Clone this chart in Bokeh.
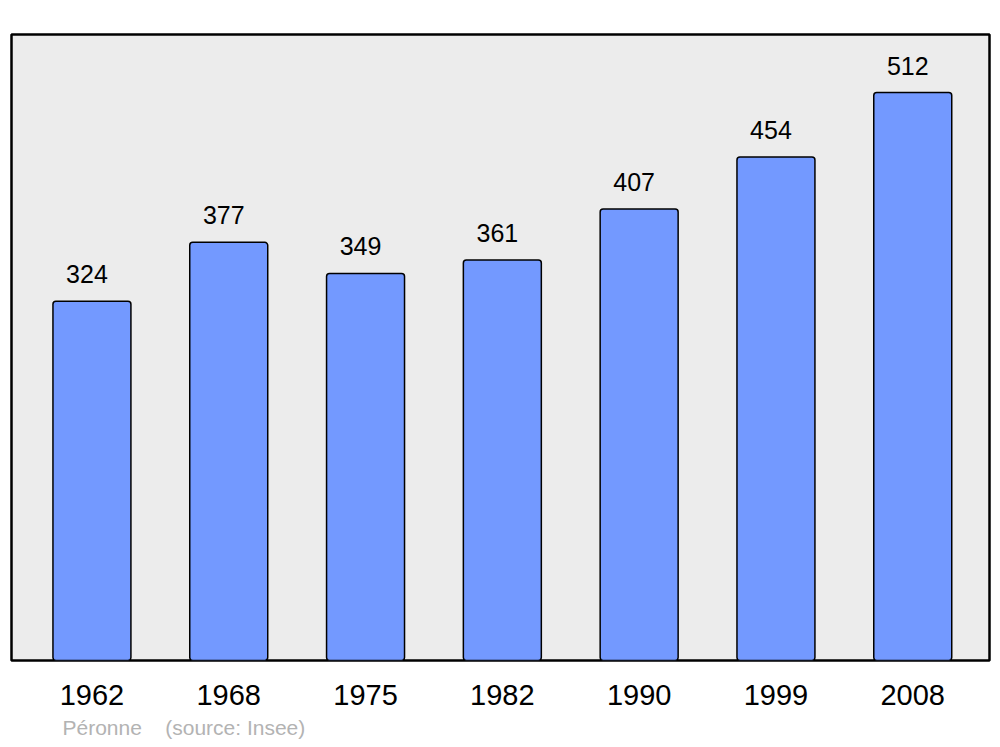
from bokeh.plotting import figure
from bokeh.models import FixedTicker, Title, ColumnDataSource, Range1d
from bokeh.core.properties import value
from bokeh.embed import file_html
from bokeh.resources import INLINE

years = ["1962", "1968", "1975", "1982", "1990", "1999", "2008"]
population = [324, 377, 349, 361, 407, 454, 512]
footer = "Péronne\u00a0\u00a0\u00a0\u00a0(source: Insee)"

idx = list(range(len(years)))
src = ColumnDataSource(dict(x=idx, top=population, label=[str(v) for v in population]))

p = figure(width=1000, height=747, output_backend="svg", toolbar_location=None,
           x_range=Range1d(-0.588, 6.561), y_range=Range1d(0, 564.4),
           y_axis_location=None, min_border_left=11, min_border_right=11,
           min_border_top=34, min_border_bottom=87)
p.background_fill_color = "#ececec"
p.border_fill_color = "white"
p.outline_line_color = "black"
p.outline_line_width = 2.5
p.grid.visible = False

p.vbar(x="x", top="top", bottom=0, width=0.57, source=src,
       fill_color="#7399ff", line_color="black", line_width=1.5, border_radius=3)
p.text(x="x", y="top", text="label", source=src, x_offset=-5, y_offset=-18,
       text_align="center", text_baseline="bottom", text_font=value("Liberation Sans"),
       text_font_size="25px", text_color="black")

ax = p.xaxis[0]
ax.ticker = FixedTicker(ticks=idx)
ax.major_label_overrides = {i: y for i, y in zip(idx, years)}
ax.axis_line_color = None
ax.major_tick_line_color = None
ax.minor_tick_line_color = None
ax.major_label_standoff = 18
ax.major_label_text_font = "Liberation Sans"
ax.major_label_text_font_size = "29px"
ax.major_label_text_color = "black"

t = Title(text=footer, align="left", offset=51, text_color="#b3b3b3",
          text_font="Liberation Sans", text_font_size="21px", text_font_style="normal",
          standoff=12)
p.add_layout(t, "below")

open("out.html", "w").write(file_html(p, INLINE))
